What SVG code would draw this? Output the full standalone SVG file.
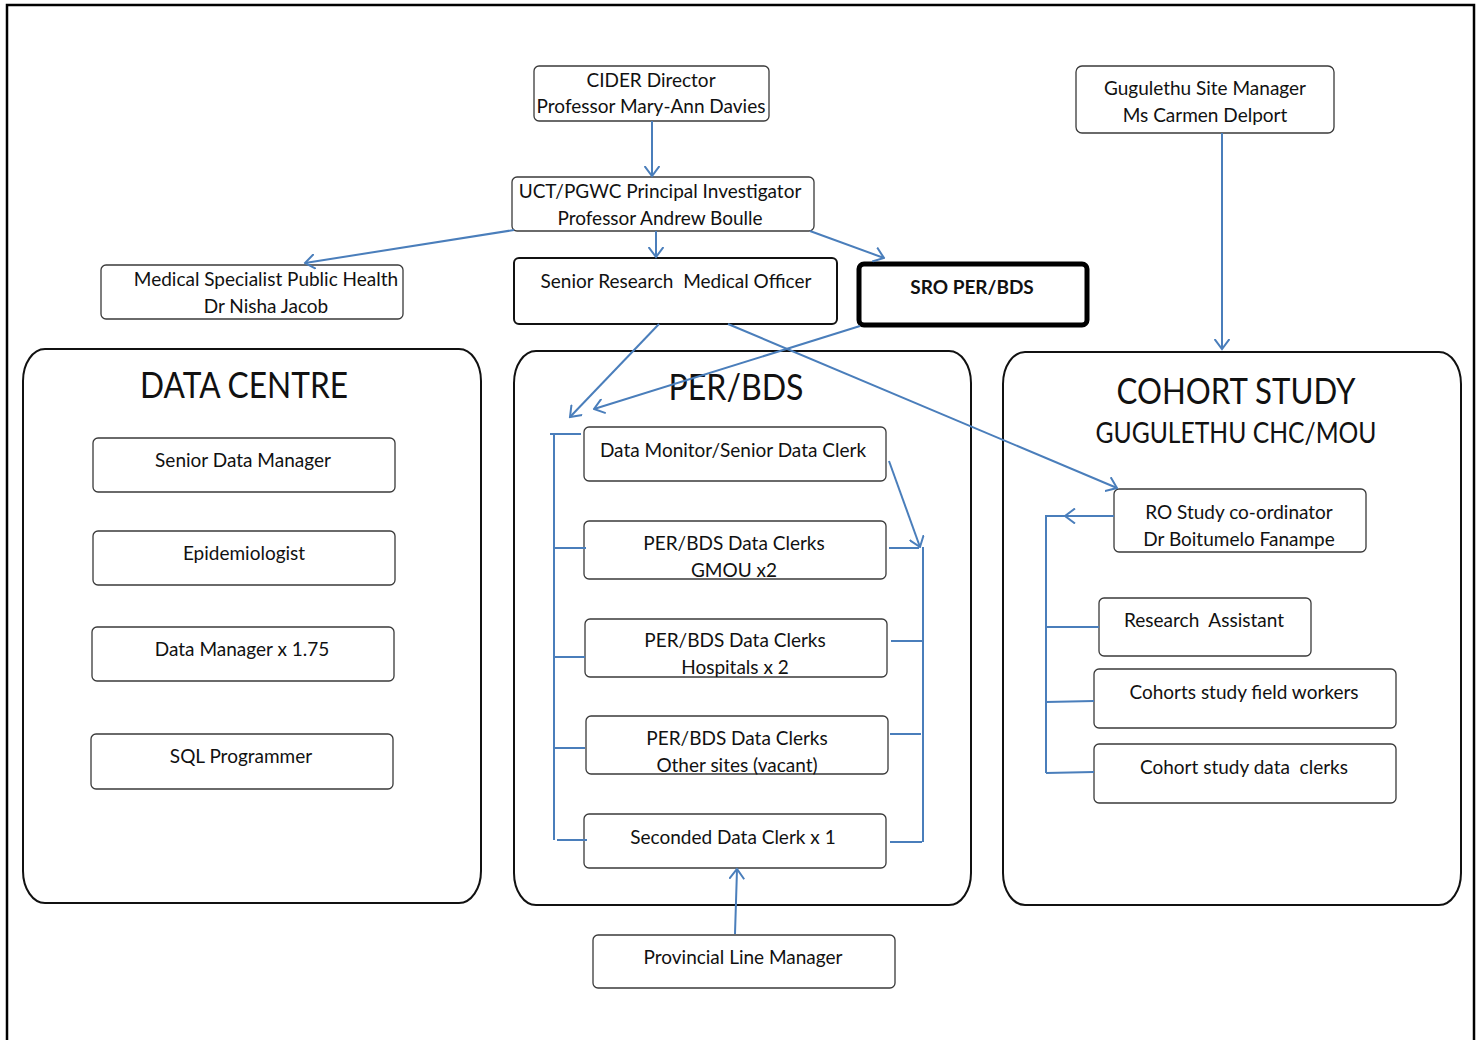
<svg xmlns="http://www.w3.org/2000/svg" width="1481" height="1040" viewBox="0 0 1481 1040">
<defs>
<style>
text{font-family:Lato,"Open Sans","Liberation Sans",sans-serif;fill:#111;text-anchor:middle}
.t{font-size:19px}
.h{font-size:36px}
.h2{font-size:28px}
.b{fill:#fff;stroke:#3a3a3a;stroke-width:1.3}
.c{fill:#fff;stroke:#111;stroke-width:2}
.e{fill:none;stroke:#4A7EBB;stroke-width:2}
.a{marker-end:url(#arr)}
</style>
<marker id="arr" viewBox="0 0 12 16" refX="10.5" refY="8" markerWidth="12" markerHeight="16" orient="auto" markerUnits="userSpaceOnUse">
<path d="M0.5,0.5 L10.5,8 L0.5,15.5" fill="none" stroke="#4A7EBB" stroke-width="2"/>
</marker>
</defs>
<rect x="0" y="0" width="1481" height="1040" fill="#fff"/>
<rect x="7" y="5" width="1467" height="1045" fill="none" stroke="#000" stroke-width="2.5"/>

<g id="data-centre"><rect class="c" x="23" y="349" width="458" height="554" rx="22" ry="32"/><text class="h" x="244" y="398" textLength="208" lengthAdjust="spacingAndGlyphs">DATA CENTRE</text></g>
<g id="per-bds"><rect class="c" x="514" y="351" width="457" height="554" rx="22" ry="32"/><text class="h" x="736" y="400" textLength="135" lengthAdjust="spacingAndGlyphs">PER/BDS</text></g>
<g id="cohort-study"><rect class="c" x="1003" y="352" width="458" height="553" rx="22" ry="32"/><text class="h" x="1236" y="404" textLength="239" lengthAdjust="spacingAndGlyphs">COHORT STUDY</text><text class="h2" x="1236" y="443" textLength="281" lengthAdjust="spacingAndGlyphs">GUGULETHU CHC/MOU</text></g>

<g id="cider"><rect class="b" x="534" y="66" width="235" height="55" rx="5"/><text class="t" x="651" y="87">CIDER Director</text><text class="t" x="651" y="113">Professor Mary-Ann Davies</text></g>
<g id="uct"><rect class="b" x="512" y="177" width="302" height="54" rx="5"/><text class="t" x="660" y="198">UCT/PGWC Principal Investigator</text><text class="t" x="660" y="225">Professor Andrew Boulle</text></g>
<g id="medical-specialist"><rect class="b" x="101" y="265" width="302" height="54" rx="5"/><text class="t" x="266" y="286">Medical Specialist Public Health</text><text class="t" x="266" y="313">Dr Nisha Jacob</text></g>
<g id="srmo"><rect class="c" x="514" y="258" width="323" height="66" rx="5"/><text class="t" x="676" y="288" xml:space="preserve">Senior Research  Medical Officer</text></g>
<g id="sro"><rect x="859" y="264" width="228" height="61" rx="5" fill="#fff" stroke="#000" stroke-width="5"/><text class="t" x="972" y="294" font-weight="bold" font-size="18">SRO PER/BDS</text></g>
<g id="gugulethu"><rect class="b" x="1076" y="66" width="258" height="67" rx="6"/><text class="t" x="1205" y="95">Gugulethu Site Manager</text><text class="t" x="1205" y="122">Ms Carmen Delport</text></g>

<g id="senior-data-manager"><rect class="b" x="93" y="438" width="302" height="54" rx="5"/><text class="t" x="243" y="467">Senior Data Manager</text></g>
<g id="epidemiologist"><rect class="b" x="93" y="531" width="302" height="54" rx="5"/><text class="t" x="244" y="560">Epidemiologist</text></g>
<g id="data-manager"><rect class="b" x="92" y="627" width="302" height="54" rx="5"/><text class="t" x="242" y="656">Data Manager x 1.75</text></g>
<g id="sql-programmer"><rect class="b" x="91" y="734" width="302" height="55" rx="5"/><text class="t" x="241" y="763">SQL Programmer</text></g>

<g id="data-monitor"><rect class="b" x="584" y="427" width="302" height="54" rx="5"/><text class="t" x="733" y="457">Data Monitor/Senior Data Clerk</text></g>
<g id="clerks-gmou"><rect class="b" x="584" y="521" width="302" height="58" rx="5"/><text class="t" x="734" y="550">PER/BDS Data Clerks</text><text class="t" x="734" y="577">GMOU x2</text></g>
<g id="clerks-hospitals"><rect class="b" x="585" y="619" width="302" height="58" rx="5"/><text class="t" x="735" y="647">PER/BDS Data Clerks</text><text class="t" x="735" y="674">Hospitals x 2</text></g>
<g id="clerks-other"><rect class="b" x="586" y="716" width="302" height="58" rx="5"/><text class="t" x="737" y="745">PER/BDS Data Clerks</text><text class="t" x="737" y="772">Other sites (vacant)</text></g>
<g id="seconded"><rect class="b" x="584" y="814" width="302" height="54" rx="5"/><text class="t" x="733" y="844">Seconded Data Clerk x 1</text></g>
<g id="provincial"><rect class="b" x="593" y="935" width="302" height="53" rx="5"/><text class="t" x="743" y="964">Provincial Line Manager</text></g>

<g id="ro-coordinator"><rect class="b" x="1114" y="489" width="252" height="63" rx="5"/><text class="t" x="1239" y="519">RO Study co-ordinator</text><text class="t" x="1239" y="546">Dr Boitumelo Fanampe</text></g>
<g id="research-assistant"><rect class="b" x="1099" y="598" width="212" height="58" rx="5"/><text class="t" x="1204" y="627" xml:space="preserve">Research  Assistant</text></g>
<g id="field-workers"><rect class="b" x="1094" y="669" width="302" height="59" rx="5"/><text class="t" x="1244" y="699">Cohorts study field workers</text></g>
<g id="cohort-clerks"><rect class="b" x="1094" y="744" width="302" height="59" rx="5"/><text class="t" x="1244" y="774" xml:space="preserve">Cohort study data  clerks</text></g>

<g id="connectors">
<line class="e a" x1="652" y1="121" x2="652" y2="176"/>
<line class="e a" x1="656" y1="231" x2="656" y2="257"/>
<line class="e a" x1="514" y1="230" x2="305" y2="263"/>
<line class="e a" x1="810" y1="231" x2="884" y2="258"/>
<line class="e a" x1="1222" y1="133" x2="1222" y2="349"/>
<line class="e a" x1="659" y1="324" x2="570" y2="417"/>
<line class="e a" x1="860" y1="326" x2="594" y2="409"/>
<line class="e a" x1="728" y1="324" x2="1117" y2="488"/>
<line class="e a" x1="889" y1="461" x2="920" y2="547"/>
<line class="e a" x1="735" y1="934" x2="737" y2="869"/>
<path class="e" d="M923,547 V842 M889,548 H919 M891,641 H922 M890,734 H921 M890,842 H922"/>
<path class="e" d="M554,434 V840 M550,434 H581 M554,548 H586 M554,657 H585 M554,748 H585 M557,840 H587"/>
<line class="e a" x1="1114" y1="516" x2="1065" y2="516"/>
<path class="e" d="M1065,516 H1046 V773 M1046,627 H1099 M1046,702 L1094,701 M1046,773 L1094,772"/>
</g>
</svg>
